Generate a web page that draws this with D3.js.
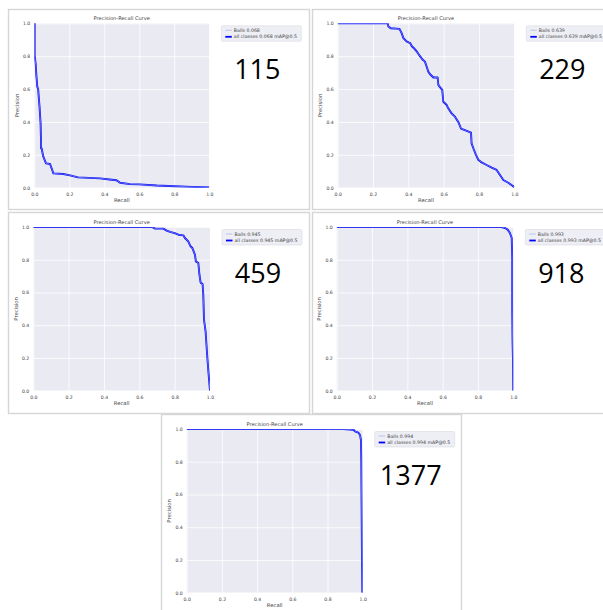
<!DOCTYPE html>
<html>
<head>
<meta charset="utf-8">
<script src="https://cdn.jsdelivr.net/npm/d3@7/dist/d3.min.js"></script>
<style>
  body { margin: 0; background: #fff; }
  svg { display: block; }
</style>
</head>
<body>
<svg id="chart" width="603" height="610"></svg>
<script>
// axis ticks shared by every panel
const tickValues = [0, 0.2, 0.4, 0.6, 0.8, 1.0]

// one panel per training-set size
const panelLabels = ["115", "229", "459", "918", "1377"]
const mapValues = ["0.068", "0.639", "0.945", "0.993", "0.994"]

// [recall, precision] pairs
const curve115 = [
  [0.0, 1.0], [0.002, 1.0], [0.002, 0.807], [0.008, 0.75], [0.012, 0.68], [0.017, 0.615],
  [0.022, 0.6], [0.03, 0.49], [0.036, 0.39], [0.038, 0.3], [0.038, 0.24], [0.042, 0.24],
  [0.051, 0.19], [0.067, 0.148], [0.09, 0.144], [0.099, 0.118], [0.109, 0.087],
  [0.166, 0.083], [0.204, 0.075], [0.25, 0.063], [0.375, 0.057], [0.43, 0.05],
  [0.47, 0.045], [0.49, 0.03], [0.547, 0.022], [0.6, 0.02], [0.7, 0.013], [0.8, 0.009],
  [0.9, 0.005], [1.0, 0.001]
]
const curve229 = [
  [0.0, 1.0], [0.283, 1.0], [0.287, 0.98], [0.3, 0.97], [0.35, 0.966], [0.362, 0.94],
  [0.372, 0.91], [0.39, 0.89], [0.41, 0.88], [0.42, 0.86], [0.43, 0.85], [0.447, 0.83],
  [0.466, 0.8], [0.48, 0.78], [0.494, 0.767], [0.504, 0.736], [0.513, 0.706],
  [0.523, 0.69], [0.542, 0.67], [0.566, 0.67], [0.57, 0.625], [0.58, 0.61],
  [0.592, 0.595], [0.598, 0.523], [0.617, 0.503], [0.626, 0.483], [0.645, 0.452],
  [0.664, 0.432], [0.683, 0.4], [0.698, 0.36], [0.72, 0.35], [0.755, 0.335],
  [0.758, 0.27], [0.768, 0.24], [0.783, 0.2], [0.796, 0.17], [0.815, 0.154],
  [0.843, 0.138], [0.872, 0.122], [0.9, 0.108], [0.919, 0.077], [0.938, 0.047],
  [0.966, 0.03], [0.99, 0.012], [1.0, 0.003]
]
const curve459 = [
  [0.0, 1.0], [0.67, 1.0], [0.69, 0.99], [0.736, 0.99], [0.755, 0.978], [0.774, 0.97],
  [0.8, 0.963], [0.821, 0.953], [0.849, 0.949], [0.858, 0.933], [0.877, 0.912],
  [0.89, 0.882], [0.9, 0.872], [0.915, 0.83], [0.92, 0.79], [0.934, 0.78], [0.94, 0.71],
  [0.947, 0.66], [0.958, 0.652], [0.962, 0.587], [0.966, 0.434], [0.975, 0.363],
  [0.985, 0.2], [0.994, 0.077], [1.0, 0.0]
]
const curve918 = [
  [0.0, 1.0], [0.934, 1.0], [0.953, 0.994], [0.968, 0.984], [0.981, 0.963],
  [0.991, 0.933], [0.994, 0.81], [0.994, 0.505], [0.996, 0.3], [0.998, 0.2], [1.0, 0.0]
]
const curve1377 = [
  [0.0, 1.0], [0.89, 0.999], [0.947, 0.995], [0.956, 0.986], [0.975, 0.978],
  [0.985, 0.963], [0.99, 0.933], [0.992, 0.81], [0.994, 0.505], [0.996, 0.2], [0.998, 0.0]
]
const curves = [curve115, curve229, curve459, curve918, curve1377]

// where each screenshot sits on the page
const layout = [
  {frame: [8, 9, 301, 200], plot: [34.3, 23.3, 175, 164.4]},
  {frame: [312, 9, 300, 200], plot: [337.7, 23.3, 176.6, 164.4]},
  {frame: [8, 212, 301, 201], plot: [33.3, 227, 176.7, 163.7]},
  {frame: [312, 212, 300, 201], plot: [336.7, 227, 176.6, 163.7]},
  {frame: [161, 414, 300, 200], plot: [186.7, 429, 176, 163.7]},
]

const svg = d3.select("#chart")
const font = "DejaVu Sans, Liberation Sans, sans-serif"
const textCol = "#444"

layout.forEach((L, i) => {
  const [fx, fy, fw, fh] = L.frame
  const [px, py, pw, ph] = L.plot

  svg.append("rect")
    .attr("x", fx + 0.5).attr("y", fy + 0.5)
    .attr("width", fw).attr("height", fh)
    .attr("fill", "#fff").attr("stroke", "#d6d6d6").attr("stroke-width", 1.4)

  const x = d3.scaleLinear().domain([0, 1]).range([0, pw])
  const y = d3.scaleLinear().domain([0, 1]).range([ph, 0])

  const g = svg.append("g").attr("transform", `translate(${px},${py})`)

  g.append("rect").attr("width", pw).attr("height", ph).attr("fill", "#eaeaf2")

  // white grid, no tick marks (seaborn darkgrid look)
  g.append("g")
    .attr("transform", `translate(0,${ph})`)
    .call(d3.axisBottom(x).tickValues(tickValues).tickSize(-ph).tickFormat(d3.format(".1f")).tickPadding(5))
    .call((gg) => {
      gg.select(".domain").remove()
      gg.selectAll("line").attr("stroke", "#fff").attr("stroke-width", 0.8)
      gg.selectAll("text").attr("font-size", 4.6).attr("fill", textCol).attr("font-family", font)
    })

  g.append("g")
    .call(d3.axisLeft(y).tickValues(tickValues).tickSize(-pw).tickFormat(d3.format(".1f")).tickPadding(4))
    .call((gg) => {
      gg.select(".domain").remove()
      gg.selectAll("line").attr("stroke", "#fff").attr("stroke-width", 0.8)
      gg.selectAll("text").attr("font-size", 4.6).attr("fill", textCol).attr("font-family", font)
    })

  const clipId = `clip${i}`
  g.append("clipPath").attr("id", clipId)
    .append("rect").attr("width", pw).attr("height", ph)

  const line = d3.line().x((d) => x(d[0])).y((d) => y(d[1]))

  const lg = g.append("g").attr("clip-path", `url(#${clipId})`)
  lg.append("path").datum(curves[i])
    .attr("fill", "none").attr("stroke", "#0000ff").attr("stroke-width", 1.9)
    .attr("stroke-linejoin", "round").attr("d", line)
  lg.append("path").datum(curves[i])
    .attr("fill", "none").attr("stroke", "#9fb3e8").attr("stroke-width", 0.6)
    .attr("d", line)

  g.append("text")
    .attr("x", pw / 2).attr("y", -3.5)
    .attr("text-anchor", "middle")
    .attr("font-size", 5.1).attr("font-family", font).attr("fill", textCol)
    .text("Precision-Recall Curve")

  g.append("text")
    .attr("x", pw / 2).attr("y", ph + 14.5)
    .attr("text-anchor", "middle")
    .attr("font-size", 5.3).attr("font-family", font).attr("fill", textCol)
    .text("Recall")

  g.append("text")
    .attr("transform", `translate(-15.5,${ph / 2}) rotate(-90)`)
    .attr("text-anchor", "middle")
    .attr("font-size", 5.3).attr("font-family", font).attr("fill", textCol)
    .text("Precision")

  // legend
  const leg = g.append("g").attr("transform", `translate(${pw + 12},${2.5})`)
  leg.append("rect")
    .attr("width", 80).attr("height", 15.5).attr("rx", 1.5)
    .attr("fill", "#eeeef5").attr("stroke", "#d8d8e0").attr("stroke-width", 0.6)
  leg.append("line").attr("x1", 4).attr("x2", 10.5).attr("y1", 4.5).attr("y2", 4.5)
    .attr("stroke", "#9fb3e8").attr("stroke-width", 0.7)
  leg.append("line").attr("x1", 4).attr("x2", 10.5).attr("y1", 11).attr("y2", 11)
    .attr("stroke", "#0000ff").attr("stroke-width", 1.8)
  leg.append("text").attr("x", 12.5).attr("y", 6.1)
    .attr("font-size", 4.7).attr("font-family", font).attr("fill", textCol)
    .text(`Balls ${mapValues[i]}`)
  leg.append("text").attr("x", 12.5).attr("y", 12.6)
    .attr("font-size", 4.7).attr("font-family", font).attr("fill", textCol)
    .text(`all classes ${mapValues[i]} mAP@0.5`)

  // sample-count label
  svg.append("text")
    .attr("x", px + pw + 48).attr("y", py + 55.5)
    .attr("text-anchor", "middle")
    .attr("font-size", 27).attr("font-family", "Open Sans, Noto Sans, sans-serif")
    .attr("fill", "#000")
    .text(panelLabels[i])
})
</script>
</body>
</html>
